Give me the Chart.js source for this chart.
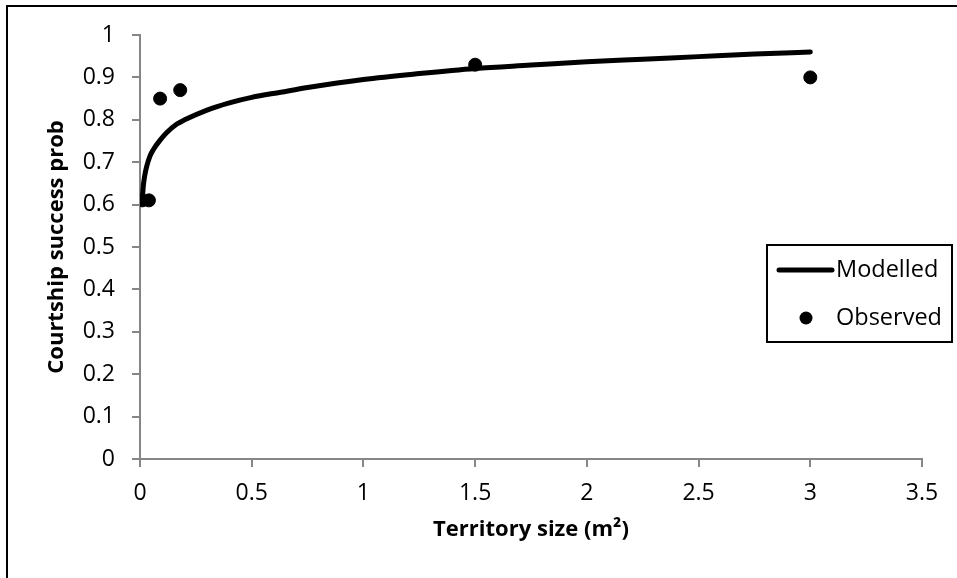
<!DOCTYPE html>
<html>
<head>
<meta charset="utf-8">
<script src="https://cdn.jsdelivr.net/npm/chart.js@4"></script>
<style>
  body { margin: 0; background: #fff; }
  #wrap { width: 957px; height: 578px; position: relative; }
</style>
</head>
<body>
<div id="wrap"><canvas id="myChart" width="957" height="578"></canvas></div>
<script>
// modelled curve
var modelX = [0.01, 0.015, 0.02, 0.03, 0.045, 0.06, 0.09, 0.12, 0.165, 0.2, 0.3, 0.4, 0.5, 0.63, 0.75, 1, 1.25, 1.5, 1.75, 2, 2.25, 2.5, 2.75, 3];
var modelY = [0.61, 0.645, 0.665, 0.69, 0.715, 0.73, 0.752, 0.77, 0.79, 0.8, 0.823, 0.84, 0.853, 0.865, 0.876, 0.895, 0.909, 0.921, 0.929, 0.937, 0.943, 0.949, 0.955, 0.96];

// observed points
var obsX = [0.01, 0.04, 0.09, 0.18, 1.5, 3];
var obsY = [0.61, 0.61, 0.85, 0.87, 0.93, 0.90];

var xTitle = 'Territory size (m²)';
var yTitle = 'Courtship success prob';
var seriesNames = ['Modelled', 'Observed'];

function toPoints(xs, ys) {
    var pts = [];
    for (var i = 0; i < xs.length; i++) pts.push({x: xs[i], y: ys[i]});
    return pts;
}

Chart.defaults.font.family = "'Open Sans', sans-serif";
Chart.defaults.color = '#000';

var axisGray = '#868686';

// outer frame + legend box drawn on the canvas
var extras = {
    id: 'extras',
    afterDraw: function(chart) {
        var ctx = chart.ctx;
        ctx.save();
        ctx.strokeStyle = '#000';
        ctx.lineWidth = 2;
        ctx.beginPath();
        ctx.moveTo(7, 600);
        ctx.lineTo(7, 6);
        ctx.lineTo(1000, 6);
        ctx.stroke();

        // legend
        ctx.fillStyle = '#fff';
        ctx.fillRect(767, 245, 185, 97);
        ctx.strokeStyle = '#000';
        ctx.lineWidth = 2;
        ctx.strokeRect(767, 245, 185, 97);

        ctx.lineCap = 'round';
        ctx.lineWidth = 5;
        ctx.beginPath();
        ctx.moveTo(779, 270);
        ctx.lineTo(832, 270);
        ctx.stroke();

        ctx.fillStyle = '#000';
        ctx.beginPath();
        ctx.arc(806, 318, 6.5, 0, Math.PI * 2);
        ctx.fill();

        ctx.font = "23.5px 'Open Sans'";
        ctx.textBaseline = 'middle';
        ctx.textAlign = 'left';
        ctx.fillText(chart.data.datasets[0].label, 836, 270);
        ctx.fillText(chart.data.datasets[1].label, 836, 318);
        ctx.restore();
    }
};

var ctx = document.getElementById('myChart').getContext('2d');

var chart = new Chart(ctx, {
    type: 'scatter',
    data: {
        datasets: [
            {
                label: seriesNames[0],
                data: toPoints(modelX, modelY),
                showLine: true,
                borderColor: '#000',
                backgroundColor: '#000',
                borderWidth: 5,
                borderCapStyle: 'round',
                pointRadius: 0,
                cubicInterpolationMode: 'monotone',
                order: 2
            },
            {
                label: seriesNames[1],
                data: toPoints(obsX, obsY),
                showLine: false,
                backgroundColor: '#000',
                borderColor: '#000',
                pointRadius: 6.5,
                order: 1
            }
        ]
    },
    options: {
        responsive: false,
        animation: false,
        layout: { padding: { left: 0, right: 35, top: 35, bottom: 0 } },
        plugins: {
            legend: { display: false },
            tooltip: { enabled: false }
        },
        scales: {
            x: {
                type: 'linear',
                min: 0,
                max: 3.5,
                ticks: {
                    stepSize: 0.5,
                    padding: 13,
                    font: { size: 23 },
                    callback: function(v) { return String(+v.toFixed(1)); }
                },
                grid: { drawOnChartArea: false, tickLength: 8, color: axisGray, lineWidth: 2 },
                border: { color: axisGray, width: 2 },
                title: {
                    display: true,
                    text: xTitle,
                    font: { size: 22, weight: 'bold' },
                    padding: { top: 0, bottom: 35 }
                },
                afterFit: function(scale) { scale.height = 119; }
            },
            y: {
                type: 'linear',
                min: 0,
                max: 1,
                ticks: {
                    stepSize: 0.1,
                    padding: 17,
                    font: { size: 23 },
                    callback: function(v) { return String(+v.toFixed(1)); }
                },
                grid: { drawOnChartArea: false, tickLength: 8, color: axisGray, lineWidth: 2 },
                border: { color: axisGray, width: 2 },
                title: {
                    display: true,
                    text: yTitle,
                    font: { size: 22, weight: 'bold' },
                    padding: { top: 44, bottom: 0 }
                },
                afterFit: function(scale) { scale.width = 140; }
            }
        }
    },
    plugins: [extras]
});
</script>
</body>
</html>
